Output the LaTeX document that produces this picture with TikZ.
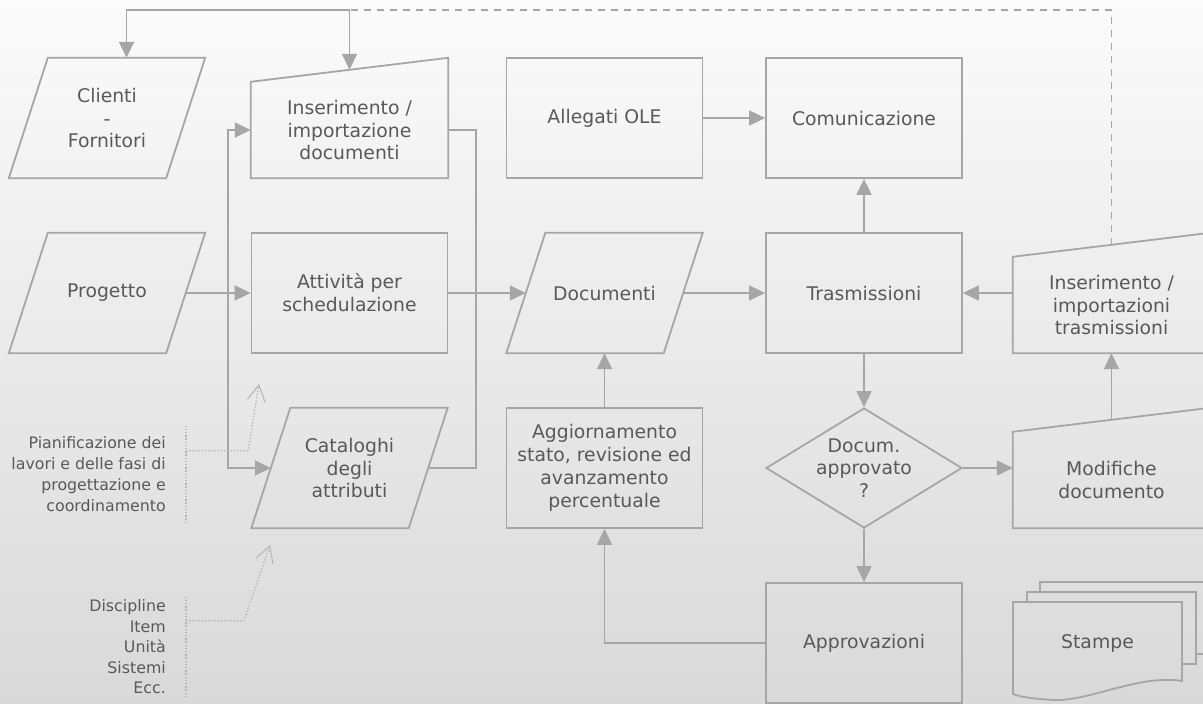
\documentclass[tikz,border=0pt]{standalone}
\usepackage{fontspec}
\setmainfont{DejaVu Sans}
\usetikzlibrary{shapes.geometric,arrows.meta}
\definecolor{linec}{HTML}{A6A6A6}
\definecolor{txtc}{HTML}{595959}
\definecolor{bgtop}{HTML}{FBFBFB}
\definecolor{bgbot}{HTML}{D9D9D9}
\definecolor{dotc}{HTML}{B4B4B4}
\tikzstyle{txt} = [text=txtc, font=\fontsize{18.8}{22.8}\selectfont, align=center]
\tikzstyle{line} = [draw=linec, line width=1.8pt]
\tikzstyle{box} = [txt, line, rectangle, minimum width=196pt, minimum height=120pt, inner sep=0pt]
\tikzstyle{para} = [txt, rectangle, minimum width=157pt, minimum height=120pt, inner sep=0pt]
\tikzstyle{manual} = [txt, rectangle, minimum width=197pt, minimum height=96pt, inner sep=0pt]
\tikzstyle{dia} = [line, diamond, minimum width=196pt, minimum height=120pt, inner sep=0pt]
\tikzstyle{arr} = [line, -{Triangle[length=16pt,width=15pt]}]
\tikzstyle{dblarr} = [line, {Triangle[length=16pt,width=15pt]}-{Triangle[length=16pt,width=15pt]}]
\tikzstyle{note} = [text=txtc, align=right, inner sep=0pt]
\tikzstyle{dots} = [draw=dotc, line width=1.2pt, dash pattern=on 1.4pt off 1.8pt]
\tikzstyle{pointer} = [dots, -{Straight Barb[length=16pt,width=18pt,line width=1pt]}]

\begin{document}
\begin{tikzpicture}[x=1pt,y=-1pt]
\shade[top color=bgtop, bottom color=bgbot] (0,0) rectangle (1203,704);
\useasboundingbox (0,0) rectangle (1203,704);

\node[para] (cli) at (107,118) {Clienti\\-\\Fornitori};
\node[manual] (insdoc) at (349.5,130) {Inserimento /\\importazione\\documenti};
\node[box] (ole) at (604.5,118) {Allegati OLE};
\node[box] (com) at (864,118) {Comunicazione};

\node[para] (prog) at (107,293) {Progetto};
\node[box] (att) at (349.5,293) {Attività per\\schedulazione};
\node[para] (doc) at (604.5,293) {Documenti};
\node[box] (tra) at (864,293) {Trasmissioni};
\node[manual] (instr) at (1111.5,305) {Inserimento /\\importazioni\\trasmissioni};

\node[para] (cat) at (349.5,468) {Cataloghi\\degli\\attributi};
\node[box] (agg) at (604.5,468) {Aggiornamento\\stato, revisione ed\\avanzamento\\percentuale};
\node[dia, label={[txt]center:Docum.\\approvato\\?}] (dec) at (864,468) {};
\node[manual] (mod) at (1111.5,480) {Modifiche\\documento};

\node[box] (app) at (864,643) {Approvazioni};
\draw[line] (1040,592) -- (1040,582) -- (1210,582) -- (1210,654) -- (1196,654);
\draw[line] (1027,602) -- (1027,592) -- (1196,592) -- (1196,664) -- (1182,664);
\draw[line] (1013,602) -- (1182,602) -- (1182,681) .. controls (1140,674) and (1090,701) .. (1055,700) .. controls (1035,699) and (1020,697) .. (1013,694) -- cycle;
\node[txt] (sta) at (1097.5,643) {Stampe};

\foreach \n in {cli,prog,doc,cat}
  \draw[line] ([xshift=-19.5pt]\n.south west) -- ([xshift=19.5pt]\n.north west) -- ([xshift=19.5pt]\n.north east) -- ([xshift=-19.5pt]\n.south east) -- cycle;
\foreach \n in {insdoc,instr,mod}
  \draw[line] (\n.south west) -- (\n.north west) -- ([yshift=24pt]\n.north east) -- (\n.south east) -- cycle;

\coordinate (jn) at (349.5,10);
\draw[line, dash pattern=on 7pt off 6pt] ([yshift=12pt]instr.north) |- (jn);
\draw[arr] (jn) -- ([yshift=12pt]insdoc.north);
\draw[arr] (jn) -| ([xshift=19.5pt]cli.north);

\draw[dblarr] (insdoc.west) -- ++(-23pt,0) |- (cat.west);
\draw[line] (insdoc.east) -- ++(28pt,0) |- (cat.east);
\draw[arr] (prog.east) -- (att.west);
\draw[arr] (att.east) -- (doc.west);
\draw[arr] (ole.east) -- (com.west);
\draw[arr] (doc.east) -- (tra.west);
\draw[arr] (tra.north) -- (com.south);
\draw[arr] (instr.west |- tra.east) -- (tra.east);
\draw[arr] (tra.south) -- (dec.north);
\draw[arr] (dec.east) -- (mod.west |- dec.east);
\draw[arr] ([yshift=12pt]mod.north) -- (instr.south);
\draw[arr] (dec.south) -- (app.north);
\draw[arr] (app.west) -| (agg.south);
\draw[arr] (agg.north) -- (doc.south);

\node[note, font=\fontsize{15.8}{21}\selectfont, anchor=east] (pian) at (166,474.5) {Pianificazione dei\\lavori e delle fasi di\\progettazione e\\coordinamento};
\draw[dots] ([xshift=20pt,yshift=11pt]pian.north east) -- ([xshift=20pt,yshift=-11pt]pian.south east);
\coordinate (tip1) at (259,384);
\draw[pointer] ([xshift=20pt,yshift=-14pt]pian.north east) -- ++(62pt,0) -- (tip1);

\node[note, font=\fontsize{15.8}{20.5}\selectfont, anchor=east] (disc) at (166,647) {Discipline\\Item\\Unità\\Sistemi\\Ecc.};
\draw[dots] ([xshift=20pt,yshift=3pt]disc.north east) -- ([xshift=20pt,yshift=-2pt]disc.south east);
\coordinate (tip2) at (270,545);
\draw[pointer] ([xshift=20pt,yshift=-21pt]disc.north east) -- ++(58pt,0) -- (tip2);
\end{tikzpicture}
\end{document}
